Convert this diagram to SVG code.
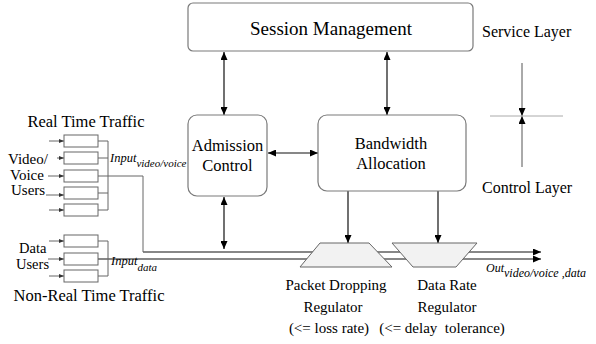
<svg xmlns="http://www.w3.org/2000/svg" width="596" height="344" viewBox="0 0 596 344">
<defs>
<marker id="ah" markerUnits="userSpaceOnUse" markerWidth="8" markerHeight="7" refX="8" refY="3.5" orient="auto-start-reverse"><path d="M0,0 L8,3.5 L0,7 z" fill="#000"/></marker>
<marker id="sa" markerUnits="userSpaceOnUse" markerWidth="5" markerHeight="4" refX="5" refY="2" orient="auto"><path d="M0,0 L5,2 L0,4 z" fill="#333"/></marker>
</defs>
<rect width="596" height="344" fill="#fff"/>

<g id="connectors" fill="none">
<g stroke="#111" stroke-width="1.2">
<line x1="224" y1="52" x2="224" y2="115" marker-start="url(#ah)" marker-end="url(#ah)"/>
<line x1="387" y1="52" x2="387" y2="115" marker-start="url(#ah)" marker-end="url(#ah)"/>
<line x1="268" y1="153" x2="318" y2="153" marker-start="url(#ah)" marker-end="url(#ah)"/>
<line x1="224" y1="197" x2="224" y2="249" marker-start="url(#ah)" marker-end="url(#ah)"/>
<line x1="348" y1="191" x2="348" y2="243" marker-end="url(#ah)"/>
<line x1="438" y1="191" x2="438" y2="243" marker-end="url(#ah)"/>
<line x1="143" y1="252" x2="541" y2="252" marker-end="url(#ah)"/>
<line x1="98" y1="259" x2="541" y2="259" marker-end="url(#ah)"/>
</g>
<g stroke="#666" stroke-width="1">
<polyline points="98,176 143,176 143,252"/>
<path d="M98,141 H108 M98,158 H108 M98,193 H108 M98,210 H108 M108,141 V210"/>
<path d="M98,241 H108 M98,276 H108 M108,241 V276"/>
<line x1="49" y1="141" x2="64" y2="141" marker-end="url(#sa)"/>
<line x1="57" y1="158" x2="64" y2="158" marker-end="url(#sa)"/>
<line x1="48" y1="176" x2="64" y2="176" marker-end="url(#sa)"/>
<line x1="46" y1="195" x2="64" y2="195" marker-end="url(#sa)"/>
<line x1="49" y1="210" x2="64" y2="210" marker-end="url(#sa)"/>
<line x1="49" y1="241" x2="64" y2="241" marker-end="url(#sa)"/>
<line x1="48" y1="259" x2="64" y2="259" marker-end="url(#sa)"/>
<line x1="49" y1="276" x2="64" y2="276" marker-end="url(#sa)"/>
</g>
<line stroke="#555" stroke-width="1" x1="522" y1="63" x2="522" y2="116" marker-end="url(#ah)"/>
<line stroke="#555" stroke-width="1" x1="522" y1="167" x2="522" y2="116" marker-end="url(#ah)"/>
<line stroke="#aaa" stroke-width="1" x1="490" y1="116" x2="563" y2="116"/>
</g>

<g id="session">
<rect x="188" y="3" width="285" height="48" rx="5" fill="#fff" stroke="#7a7a7a" stroke-width="1.2"/>
<text style="font-family:'Liberation Serif','Times New Roman',serif" font-family="Times New Roman" text-anchor="middle" x="331" y="35" font-size="19">Session Management</text>
</g>
<g id="admission">
<rect x="188" y="115" width="79" height="81" rx="9" fill="#fff" stroke="#7a7a7a" stroke-width="1.2"/>
<text style="font-family:'Liberation Serif','Times New Roman',serif" font-family="Times New Roman" text-anchor="middle" x="227.5" y="151" font-size="16.5">Admission</text>
<text style="font-family:'Liberation Serif','Times New Roman',serif" font-family="Times New Roman" text-anchor="middle" x="227.5" y="171" font-size="16.5">Control</text>
</g>
<g id="bandwidth">
<rect x="318" y="115" width="148" height="76" rx="9" fill="#fff" stroke="#7a7a7a" stroke-width="1.2"/>
<text style="font-family:'Liberation Serif','Times New Roman',serif" font-family="Times New Roman" text-anchor="middle" x="391" y="149" font-size="16.5">Bandwidth</text>
<text style="font-family:'Liberation Serif','Times New Roman',serif" font-family="Times New Roman" text-anchor="middle" x="391" y="169" font-size="16.5">Allocation</text>
</g>

<g id="realtime">
<text style="font-family:'Liberation Serif','Times New Roman',serif" font-family="Times New Roman" text-anchor="middle" x="86" y="127" font-size="16.5">Real Time Traffic</text>
<g fill="#fff" stroke="#666" stroke-width="1">
<rect x="64" y="135" width="34" height="12"/>
<rect x="64" y="152" width="34" height="12"/>
<rect x="64" y="170" width="34" height="12"/>
<rect x="64" y="187" width="34" height="12"/>
<rect x="64" y="204" width="34" height="12"/>
</g>
<text style="font-family:'Liberation Serif','Times New Roman',serif" font-family="Times New Roman" x="8" y="164" font-size="15">Video/</text>
<text style="font-family:'Liberation Serif','Times New Roman',serif" font-family="Times New Roman" x="10" y="180" font-size="15">Voice</text>
<text style="font-family:'Liberation Serif','Times New Roman',serif" font-family="Times New Roman" x="11" y="195" font-size="15">Users</text>
<text style="font-family:'Liberation Serif','Times New Roman',serif" font-family="Times New Roman" font-style="italic" x="110" y="162" font-size="12.5">Input<tspan font-size="11" dy="5">video/voice</tspan></text>
</g>

<g id="nonrealtime">
<g fill="#fff" stroke="#666" stroke-width="1">
<rect x="64" y="235" width="34" height="12"/>
<rect x="64" y="253" width="34" height="12"/>
<rect x="64" y="270" width="34" height="12"/>
</g>
<text style="font-family:'Liberation Serif','Times New Roman',serif" font-family="Times New Roman" x="19" y="253" font-size="14.5">Data</text>
<text style="font-family:'Liberation Serif','Times New Roman',serif" font-family="Times New Roman" x="16" y="269" font-size="14.5">Users</text>
<text style="font-family:'Liberation Serif','Times New Roman',serif" font-family="Times New Roman" font-style="italic" x="111" y="265" font-size="12.5">Input<tspan font-size="11" dy="6">data</tspan></text>
<text style="font-family:'Liberation Serif','Times New Roman',serif" font-family="Times New Roman" text-anchor="middle" x="89" y="301" font-size="16.5">Non-Real Time Traffic</text>
</g>

<g id="packet-dropping">
<polygon points="320,243 369,243 392,267 300,267" fill="#f2f2f2" stroke="#666" stroke-width="1"/>
<text style="font-family:'Liberation Serif','Times New Roman',serif" font-family="Times New Roman" text-anchor="middle" x="336" y="290" font-size="15">Packet Dropping</text>
<text style="font-family:'Liberation Serif','Times New Roman',serif" font-family="Times New Roman" text-anchor="middle" x="333" y="312" font-size="15">Regulator</text>
<text style="font-family:'Liberation Serif','Times New Roman',serif" font-family="Times New Roman" text-anchor="middle" x="329" y="333" font-size="15">(&lt;= loss rate)</text>
</g>
<g id="data-rate">
<polygon points="392,243 477,243 456,267 413,267" fill="#f2f2f2" stroke="#666" stroke-width="1"/>
<text style="font-family:'Liberation Serif','Times New Roman',serif" font-family="Times New Roman" text-anchor="middle" x="447" y="290" font-size="15">Data Rate</text>
<text style="font-family:'Liberation Serif','Times New Roman',serif" font-family="Times New Roman" text-anchor="middle" x="447" y="312" font-size="15">Regulator</text>
<text style="font-family:'Liberation Serif','Times New Roman',serif" font-family="Times New Roman" text-anchor="middle" x="442" y="333" font-size="15" xml:space="preserve">(&lt;= delay  tolerance)</text>
</g>

<g id="output">
<text style="font-family:'Liberation Serif','Times New Roman',serif" font-family="Times New Roman" font-style="italic" x="486" y="272" font-size="12">Out<tspan font-size="12" dy="5">video/voice ,data</tspan></text>
</g>

<g id="layers">
<text style="font-family:'Liberation Serif','Times New Roman',serif" font-family="Times New Roman" x="482" y="37" font-size="16">Service Layer</text>
<text style="font-family:'Liberation Serif','Times New Roman',serif" font-family="Times New Roman" x="482" y="193" font-size="16">Control Layer</text>
</g>
</svg>
